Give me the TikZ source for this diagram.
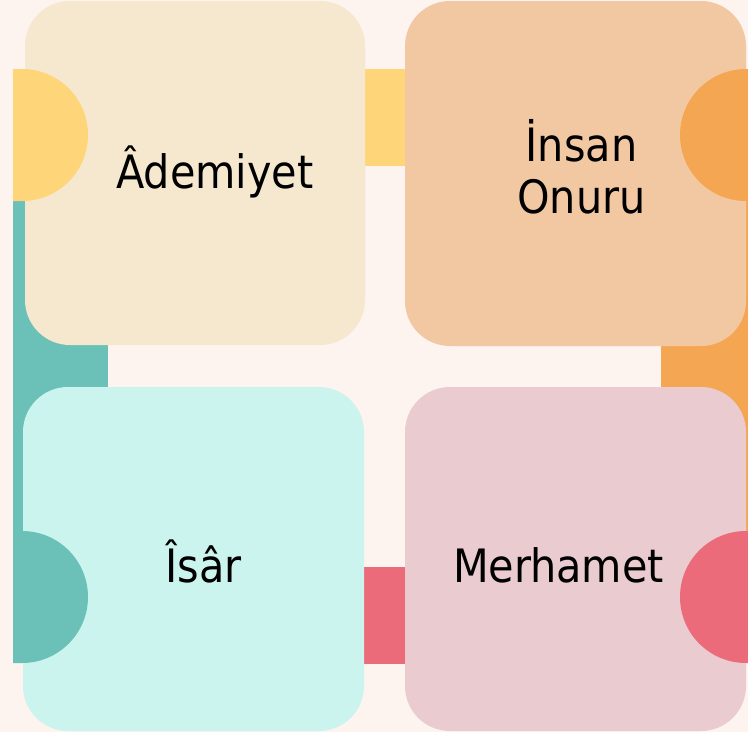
\documentclass[tikz,border=0pt]{standalone}
\usepackage{fontspec}
\setmainfont{DejaVu Sans Condensed}
\usetikzlibrary{positioning,calc}

\definecolor{bgcol}{HTML}{FDF3EF}
\definecolor{ademcol}{HTML}{F5E8CE}
\definecolor{onurcol}{HTML}{F2C8A3}
\definecolor{isarcol}{HTML}{CBF4EE}
\definecolor{merhcol}{HTML}{EACBD0}
\definecolor{yellowtab}{HTML}{FFD579}
\definecolor{tealtab}{HTML}{6BC1B8}
\definecolor{orangetab}{HTML}{F5A653}
\definecolor{redtab}{HTML}{EC6B7A}

\begin{document}
\begin{tikzpicture}[
    x=1pt, y=-1pt,
    box/.style = {rectangle, rounded corners=45pt, inner sep=0pt,
      minimum width=341pt, minimum height=344pt},
    lbl/.style = {inner sep=0pt, align=center,
      font=\fontsize{46}{52}\selectfont}
  ]
  \fill [bgcol] (0,0) rectangle (748,732);
  \useasboundingbox (0,0) rectangle (748,732);

  % bands behind the boxes
  \fill [yellowtab] (13,69) rectangle (420,166);
  \fill [tealtab] (13,201) rectangle (108,663);
  \fill [orangetab] (661,201) rectangle (748,532);
  \fill [redtab] (340,567) rectangle (420,664);

  % the four boxes
  \node [box, fill=ademcol, minimum width=340pt] (ademiyet) at (195,173) {};
  \node [box, fill=onurcol, minimum height=345pt] (onur) at (575.5,173.5) {};
  \node [box, fill=isarcol] (isar) at (193.5,559) {};
  \node [box, fill=merhcol] (merhamet) at (575.5,559) {};

  % half discs
  \fill [yellowtab] (13,69) -- (22,69) arc (-90:90:66) -- (13,201) -- cycle;
  \fill [tealtab] (13,531) -- (22,531) arc (-90:90:66) -- (13,663) -- cycle;
  \fill [orangetab] (748,69) -- (746,69) arc (-90:-270:66) -- (748,201) -- cycle;
  \fill [redtab] (748,531) -- (746,531) arc (-90:-270:66) -- (748,663) -- cycle;

  \node [lbl, anchor=base] (ademtext) at ($(ademiyet.center)+(20,15)$) {Âdemiyet};
  \node [lbl, anchor=center] (onurtext) at ($(onur.center)+(6,-7)$) {İnsan\\Onuru};
  \node [lbl, anchor=base] (isartext) at ($(isar.center)+(10,23)$) {Îsâr};
  \node [lbl, anchor=base] (merhtext) at ($(merhamet.center)+(-17,23)$) {Merhamet};
\end{tikzpicture}
\end{document}
